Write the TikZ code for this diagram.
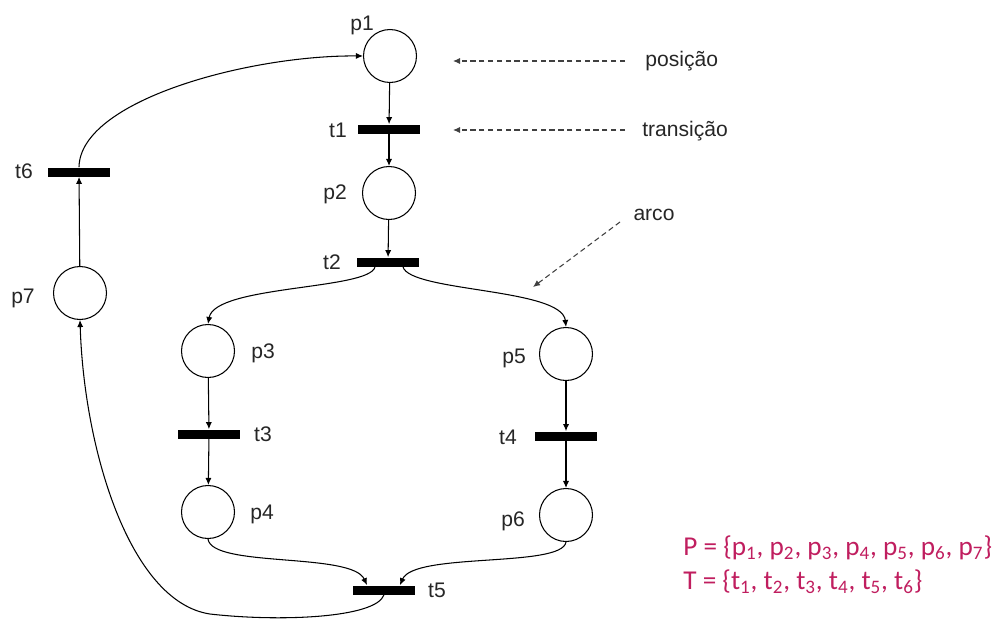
\documentclass[tikz,border=0pt]{standalone}
\usepackage{fontspec}
\setmainfont{Liberation Sans}
\newfontfamily\setsfont{Carlito}
\usetikzlibrary{arrows.meta}

\definecolor{setcolor}{RGB}{192,30,95}

\tikzset{
  place/.style={circle, draw, line width=0.6pt, minimum size=1.06cm, inner sep=0pt},
  trans/.style={rectangle, fill=black, minimum width=1.24cm, minimum height=0.18cm, inner sep=0pt},
  lbl/.style={font=\fontsize{12}{14}\selectfont, text=black!85, inner sep=0pt},
  flow/.style={-{Latex[length=4pt,width=3.5pt]}, line width=0.6pt},
  hint/.style={-{Latex[length=4pt,width=3.5pt]}, line width=0.6pt, black!75, dash pattern=on 3pt off 2pt},
  setline/.style={font=\setsfont\fontsize{15.5}{18}\selectfont, text=setcolor, inner sep=0pt, anchor=west}
}

\begin{document}
\begin{tikzpicture}[x=0.02cm, y=-0.02cm]
  \useasboundingbox (0,0) rectangle (1003,619);

  % places
  \node[place] (p1) at (390,56) {};
  \node[place] (p2) at (389,193) {};
  \node[place] (p3) at (208,351) {};
  \node[place] (p4) at (208,512) {};
  \node[place] (p5) at (566,354) {};
  \node[place] (p6) at (566,515) {};
  \node[place] (p7) at (80,293) {};

  % transitions
  \node[trans] (t1) at (389,129) {};
  \node[trans] (t2) at (388,262) {};
  \node[trans] (t3) at (209,434) {};
  \node[trans] (t4) at (566,436) {};
  \node[trans] (t5) at (384,590) {};
  \node[trans] (t6) at (79,172) {};

  % names
  \node[lbl] (l-p1) at (362,25) {p1};
  \node[lbl] (l-t1) at (338,130) {t1};
  \node[lbl] (l-p2) at (335,194) {p2};
  \node[lbl] (l-t2) at (332,262) {t2};
  \node[lbl] (l-p3) at (263,353) {p3};
  \node[lbl] (l-t3) at (263,434) {t3};
  \node[lbl] (l-p4) at (262,514) {p4};
  \node[lbl] (l-p5) at (514,358) {p5};
  \node[lbl] (l-t4) at (508,437) {t4};
  \node[lbl] (l-p6) at (513,521) {p6};
  \node[lbl] (l-t5) at (437,590) {t5};
  \node[lbl] (l-p7) at (23,298) {p7};
  \node[lbl] (l-t6) at (24,171) {t6};

  % arcs
  \draw[flow] (p1) -- (t1);
  \draw[flow] (t1) -- (p2);
  \draw[flow] (p2) -- (t2);
  \draw[flow] ([xshift=-0.26cm]t2.south) .. controls (370,290) and (215,285) .. (p3.north);
  \draw[flow] ([xshift=0.3cm]t2.south) .. controls (410,292) and (562,288) .. (p5.north);
  \draw[flow] (p3) -- (t3);
  \draw[flow] (t3) -- (p4);
  \draw[flow] (p5) -- (t4);
  \draw[flow] (t4) -- (p6);
  \draw[flow] (p4.south) .. controls (212,568) and (352,552) .. ([xshift=-0.34cm]t5.north);
  \draw[flow] (p6.south) .. controls (562,568) and (414,552) .. ([xshift=0.32cm]t5.north);
  \draw[flow] (t5.south) .. controls (376,618) and (280,622) .. (210,614)
    .. controls (130,602) and (84,450) .. (p7.south);
  \draw[flow] (p7) -- (t6);
  \draw[flow] (t6.north) .. controls (80,100) and (250,55) .. (p1.west);

  % annotations
  \node[lbl, anchor=west] (posicao) at (645,61) {posição};
  \node[lbl, anchor=west] (transicao) at (642,131) {transição};
  \node[lbl] (arco) at (654,215) {arco};
  \coordinate (h1) at (625,61);
  \coordinate (h2) at (625,130);
  \coordinate (h3) at (620,222);
  \draw[hint] (h1) -- (453,61);
  \draw[hint] (h2) -- (453,130);
  \draw[hint] (h3) -- (533,287);

  % sets
  \node[setline] (setP) at (683,548) {P = \{p\textsubscript{1}, p\textsubscript{2}, p\textsubscript{3}, p\textsubscript{4}, p\textsubscript{5}, p\textsubscript{6}, p\textsubscript{7}\}};
  \node[setline] (setT) at (683,582) {T = \{t\textsubscript{1}, t\textsubscript{2}, t\textsubscript{3}, t\textsubscript{4}, t\textsubscript{5}, t\textsubscript{6}\}};
\end{tikzpicture}
\end{document}
